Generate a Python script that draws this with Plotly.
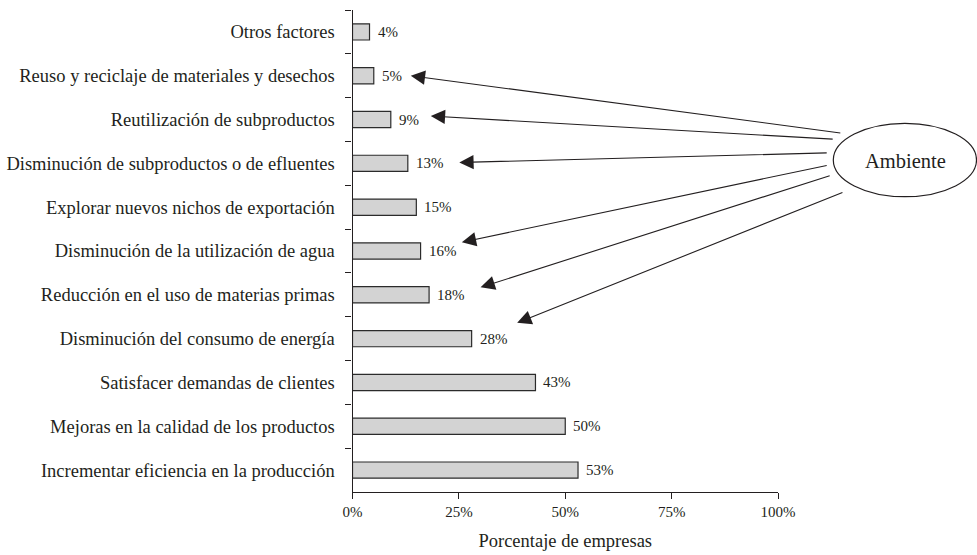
import plotly.graph_objects as go

# Factores que motivan la innovación (de arriba hacia abajo)
categorias = [
    "Otros factores",
    "Reuso y reciclaje de materiales y desechos",
    "Reutilización de subproductos",
    "Disminución de subproductos o de efluentes",
    "Explorar nuevos nichos de exportación",
    "Disminución de la utilización de agua",
    "Reducción en el uso de materias primas",
    "Disminución del consumo de energía",
    "Satisfacer demandas de clientes",
    "Mejoras en la calidad de los productos",
    "Incrementar eficiencia en la producción",
]
porcentajes = [4, 5, 9, 13, 15, 16, 18, 28, 43, 50, 53]

x_ticks = [0, 25, 50, 75, 100]
x_tick_labels = ["0%", "25%", "50%", "75%", "100%"]

# Factores ambientales señalados desde la elipse "Ambiente"
factores_ambientales = [
    "Reuso y reciclaje de materiales y desechos",
    "Reutilización de subproductos",
    "Disminución de subproductos o de efluentes",
    "Disminución de la utilización de agua",
    "Reducción en el uso de materias primas",
    "Disminución del consumo de energía",
]
# punta de flecha (x en %, desplazamiento en filas) y origen en el borde de la elipse
puntas_flecha = [(13.7, 0.0), (18.4, -0.08), (25.1, -0.02), (25.7, -0.20), (30.1, -0.17), (38.7, -0.36)]
origen_flecha = [(115.0, 2.31), (113.2, 2.45), (111.8, 2.76), (111.8, 3.04), (112.5, 3.27), (115.5, 3.65)]

TXT = "#231f20"
FONT = "Liberation Serif, Times New Roman, serif"

W, H = 977, 555
M_T, M_B = 10, 63
X0_PX, X1_PX = 352.5, 778.0

fig = go.Figure()
fig.add_trace(go.Bar(
    y=categorias,
    x=porcentajes,
    orientation="h",
    width=0.37,
    marker=dict(color="#d3d3d3", line=dict(color="#2b2b2b", width=1.2)),
    hoverinfo="skip",
))

annotations = []
for cat, v in zip(categorias, porcentajes):
    annotations.append(dict(
        x=v, y=cat, xref="x", yref="y", text=f"{v}%", showarrow=False,
        xanchor="left", yanchor="middle", xshift=6,
        font=dict(family=FONT, size=15, color=TXT),
    ))

for cat, (hx, dy), (tx, ty) in zip(factores_ambientales, puntas_flecha, origen_flecha):
    idx = categorias.index(cat)
    annotations.append(dict(
        x=hx, y=idx + dy, xref="x", yref="y",
        ax=tx, ay=ty, axref="x", ayref="y",
        text="", showarrow=True, arrowhead=2, arrowsize=2.6,
        arrowwidth=1.1, arrowcolor=TXT, standoff=0, startstandoff=0,
    ))

plot_h = H - M_T - M_B
def py(pix):
    return (H - M_B - pix) / plot_h

annotations.append(dict(
    x=905 / W, y=py(161), xref="paper", yref="paper", text="Ambiente",
    showarrow=False, xanchor="center", yanchor="middle",
    font=dict(family=FONT, size=20.5, color=TXT),
))

fig.add_shape(
    type="circle", xref="paper", yref="paper",
    x0=833.3 / W, x1=976.5 / W, y0=py(196.7), y1=py(123.3),
    line=dict(color=TXT, width=1.2), fillcolor="rgba(0,0,0,0)",
)

fig.update_layout(
    width=W, height=H,
    margin=dict(l=0, r=0, t=M_T, b=M_B),
    paper_bgcolor="white", plot_bgcolor="white",
    showlegend=False,
    font=dict(family=FONT, color=TXT),
    annotations=annotations,
    xaxis=dict(
        domain=[X0_PX / W, X1_PX / W],
        range=[0, 100], tickmode="array", tickvals=x_ticks, ticktext=x_tick_labels,
        showgrid=False, zeroline=False,
        showline=True, linecolor=TXT, linewidth=1.2,
        ticks="outside", ticklen=6, tickcolor=TXT, tickwidth=1.2,
        tickfont=dict(family=FONT, size=15, color=TXT),
        title=dict(text="Porcentaje de empresas", standoff=14,
                   font=dict(family=FONT, size=18.5, color=TXT)),
        automargin=False, fixedrange=True,
    ),
    yaxis=dict(
        type="category", categoryorder="array", categoryarray=categorias,
        range=[10.5, -0.5], tickson="boundaries",
        showgrid=False, zeroline=False,
        showline=True, linecolor=TXT, linewidth=1.2,
        ticks="outside", ticklen=6, tickcolor=TXT, tickwidth=1.2,
        tickfont=dict(family=FONT, size=18.5, color=TXT),
        ticklabelstandoff=13,
        automargin=False, fixedrange=True,
    ),
)

fig.write_html("out.html")
